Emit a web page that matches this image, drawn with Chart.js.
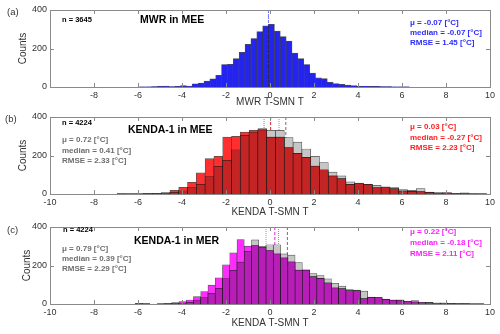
<!DOCTYPE html>
<html>
<head>
<meta charset="utf-8">
<script src="https://cdn.jsdelivr.net/npm/chart.js@4.4.1/dist/chart.umd.min.js"></script>
<style>
  html, body { margin: 0; padding: 0; background: #fff; }
  #wrap { position: relative; width: 500px; height: 334px; overflow: hidden; }
  canvas { position: absolute; left: 0; }
</style>
</head>
<body>
<div id="wrap">
  <canvas id="chartA" width="500" height="110" style="top:0"></canvas>
  <canvas id="chartB" width="500" height="113" style="top:105px"></canvas>
  <canvas id="chartC" width="500" height="119" style="top:215px"></canvas>
</div>
<script>
// ---- data (counts) ----
const xRange = [-10, 10];
const yTicks = [0, 200, 400];

// (a) MWR in MEE
const mwrBinStart = -5.94;
const mwrBinWidth = 0.267;
const mwrCounts = [1, 1, 2, 3, 5, 2, 3, 7, 5, 17, 21, 31, 42, 61, 117, 118, 148, 180, 222, 252,
  288, 318, 325, 290, 262, 238, 176, 148, 117, 72, 48, 44, 24, 18, 14, 10, 7, 5, 4, 3, 3, 2, 2, 1, 1, 1];
const mwrStats = { mean: -0.07, median: -0.07 };

// (b) KENDA-1 in MEE (red) vs grey reference
const meeBinStart = -6.95;
const meeBinWidth = 0.4;
const kendaMee = [1, 1, 1, 4, 3, 7, 19, 35, 60, 110, 184, 196, 296, 299, 322, 331, 340, 296, 296, 241,
  211, 190, 145, 126, 94, 80, 50, 54, 50, 33, 33, 28, 16, 14, 13, 9, 5, 8, 2, 2, 1, 1];
const greyMee = [2, 1, 1, 2, 2, 5, 9, 17, 33, 50, 90, 144, 175, 230, 305, 322, 333, 331, 331, 293,
  270, 234, 196, 163, 114, 94, 63, 57, 50, 45, 37, 33, 23, 19, 28, 10, 7, 5, 3, 6, 2, 1];
const kendaMeeStats = { mean: 0.03, median: -0.27 };
const greyMeeStats = { mean: 0.72, median: 0.41 };

// (c) KENDA-1 in MER (magenta) vs grey reference
const merBinStart = -6.45;
const merBinWidth = 0.33;
const kendaMer = [0, 2, 2, 0, 1, 2, 7, 12, 21, 38, 64, 98, 136, 204, 266, 335, 301, 304, 296, 278,
  261, 240, 219, 176, 176, 142, 133, 110, 84, 80, 70, 70, 28, 35, 33, 24, 20, 20, 13, 11,
  8, 7, 5, 5, 3, 2, 2, 1, 1];
const greyMer = [0, 2, 1, 0, 1, 2, 4, 5, 9, 21, 33, 55, 81, 132, 175, 218, 273, 333, 300, 308,
  308, 260, 254, 215, 177, 158, 148, 131, 108, 93, 75, 72, 67, 36, 34, 25, 20, 20, 14, 18,
  8, 7, 5, 5, 4, 2, 2, 1, 1];
const kendaMerStats = { mean: 0.22, median: -0.18 };
const greyMerStats = { mean: 0.79, median: 0.39 };

// ---- styling ----
const FONT = "'Liberation Sans', Arial, sans-serif";
const AXIS = '#8a8a8a';
const LABEL = '#333';
const EDGE = 'rgba(20,20,20,0.75)';
const GREY = '#c6c6c6';

function bars(start, width, counts) {
  return counts.map((c, i) => ({ x: start + width * (i + 0.5), y: c }));
}

function histSet(start, width, counts, color) {
  return {
    data: bars(start, width, counts),
    backgroundColor: color,
    borderColor: EDGE,
    borderWidth: 0.7,
    barPercentage: 1,
    categoryPercentage: 1,
    grouped: false,
  };
}

// stats lines under the bars; box, inward ticks, y title and texts on top
const framePlugin = {
  id: 'frame',
  beforeDatasetsDraw(chart, args, opts) {
    const { ctx, chartArea: a, scales: { x } } = chart;
    (opts.lines || []).forEach(l => {
      const px = x.getPixelForValue(l.value);
      ctx.save();
      ctx.strokeStyle = l.color;
      ctx.lineWidth = 1;
      ctx.setLineDash(l.dash);
      ctx.beginPath();
      ctx.moveTo(px, a.top);
      ctx.lineTo(px, a.bottom);
      ctx.stroke();
      ctx.restore();
    });
  },
  afterDraw(chart, args, opts) {
    const { ctx, chartArea: a, scales: { x, y } } = chart;
    ctx.save();
    ctx.strokeStyle = AXIS;
    ctx.lineWidth = 1;
    ctx.strokeRect(Math.round(a.left) + 0.5, Math.round(a.top) + 0.5,
      Math.round(a.right - a.left), Math.round(a.bottom - a.top));
    ctx.beginPath();
    x.ticks.forEach(t => {
      const px = Math.round(x.getPixelForValue(t.value)) + 0.5;
      ctx.moveTo(px, a.bottom); ctx.lineTo(px, a.bottom - 4);
      ctx.moveTo(px, a.top); ctx.lineTo(px, a.top + 4);
    });
    y.ticks.forEach(t => {
      const py = Math.round(y.getPixelForValue(t.value)) + 0.5;
      ctx.moveTo(a.left, py); ctx.lineTo(a.left + 4, py);
      ctx.moveTo(a.right, py); ctx.lineTo(a.right - 4, py);
    });
    ctx.stroke();

    // y axis title
    ctx.save();
    ctx.translate(opts.yTitleX, (a.top + a.bottom) / 2);
    ctx.rotate(-Math.PI / 2);
    ctx.fillStyle = LABEL;
    ctx.font = '10px ' + FONT;
    ctx.textAlign = 'center';
    ctx.textBaseline = 'middle';
    ctx.fillText('Counts', 0, 0);
    ctx.restore();

    (opts.texts || []).forEach(t => {
      ctx.fillStyle = t.color;
      ctx.font = t.font;
      ctx.textAlign = 'left';
      ctx.textBaseline = 'middle';
      ctx.fillText(t.text, t.x, t.y);
    });
    ctx.restore();
  }
};

function makeChart(id, datasets, o) {
  return new Chart(document.getElementById(id), {
    type: 'bar',
    data: { datasets },
    plugins: [framePlugin],
    options: {
      responsive: false,
      animation: false,
      layout: { padding: { top: o.top, right: 10, left: 0, bottom: 0 } },
      plugins: {
        legend: { display: false },
        tooltip: { enabled: false },
        frame: { lines: o.lines, texts: o.texts, yTitleX: o.yTitleX },
      },
      scales: {
        x: {
          type: 'linear',
          min: xRange[0],
          max: xRange[1],
          offset: false,
          grid: { display: false, drawTicks: false },
          border: { display: false },
          ticks: {
            stepSize: 2,
            autoSkip: false,
            maxRotation: 0,
            padding: o.xTickPad,
            color: LABEL,
            font: { family: FONT, size: 9 },
            callback: v => (o.hideFirst && v === xRange[0]) ? '' : v,
          },
          title: {
            display: true,
            text: o.xTitle,
            color: LABEL,
            font: { family: FONT, size: 10 },
            padding: { top: 0, bottom: o.xTitlePad },
          },
          afterFit: s => { s.height = o.xHeight; },
        },
        y: {
          min: yTicks[0],
          max: yTicks[yTicks.length - 1],
          grid: { display: false, drawTicks: false },
          border: { display: false },
          afterBuildTicks: s => { s.ticks = yTicks.map(v => ({ value: v })); },
          ticks: {
            padding: 3,
            color: LABEL,
            font: { family: FONT, size: 9 },
          },
          afterFit: s => { s.width = 50; },
        },
      },
    },
  });
}

const B8 = 'bold 8px ' + FONT;
const B7 = 'bold 7.5px ' + FONT;
const B10 = 'bold 10.5px ' + FONT;
const MU = '\u03bc';

// (a)
makeChart('chartA', [histSet(mwrBinStart, mwrBinWidth, mwrCounts, '#2424f0')], {
  top: 10, xHeight: 23, xTickPad: 3, xTitlePad: 2, yTitleX: 23, hideFirst: true,
  xTitle: 'MWR T-SMN T',
  lines: [
    { value: mwrStats.median, color: '#7a7aff', dash: [1, 1] },
    { value: mwrStats.mean, color: '#7a7aff', dash: [3, 2] },
  ],
  texts: [
    { text: '(a)', x: 7, y: 12, color: '#333', font: '9.5px ' + FONT },
    { text: 'n = 3645', x: 62, y: 20, color: '#000', font: B7 },
    { text: 'MWR in MEE', x: 140, y: 20, color: '#000', font: B10 },
    { text: MU + ' = -0.07 [\u00b0C]', x: 410, y: 23, color: '#2b2bff', font: B8 },
    { text: 'median = -0.07 [\u00b0C]', x: 410, y: 33, color: '#2b2bff', font: B8 },
    { text: 'RMSE = 1.45 [\u00b0C]', x: 410, y: 43, color: '#2b2bff', font: B8 },
  ],
});

// (b)
const meeOverlap = kendaMee.map((v, i) => Math.min(v, greyMee[i]));
makeChart('chartB', [
  histSet(meeBinStart, meeBinWidth, meeOverlap, '#c42424'),
  histSet(meeBinStart, meeBinWidth, kendaMee, '#ff2f2f'),
  histSet(meeBinStart, meeBinWidth, greyMee, GREY),
], {
  top: 12, xHeight: 24, xTickPad: 3, xTitlePad: 0, yTitleX: 23, hideFirst: false,
  xTitle: 'KENDA T-SMN T',
  lines: [
    { value: kendaMeeStats.median, color: '#ff5050', dash: [1, 1] },
    { value: kendaMeeStats.mean, color: '#e02020', dash: [3, 2] },
    { value: greyMeeStats.median, color: '#909090', dash: [1, 1] },
    { value: greyMeeStats.mean, color: '#707070', dash: [3, 2] },
  ],
  texts: [
    { text: '(b)', x: 5, y: 14, color: '#333', font: '9.5px ' + FONT },
    { text: 'n = 4224', x: 62, y: 18, color: '#000', font: B7 },
    { text: 'KENDA-1 in MEE', x: 128, y: 25, color: '#000', font: B10 },
    { text: MU + ' = 0.72 [\u00b0C]', x: 62, y: 35, color: '#6e6e6e', font: B8 },
    { text: 'median = 0.41 [\u00b0C]', x: 62, y: 45.5, color: '#6e6e6e', font: B8 },
    { text: 'RMSE = 2.33 [\u00b0C]', x: 62, y: 56, color: '#6e6e6e', font: B8 },
    { text: MU + ' = 0.03 [\u00b0C]', x: 410, y: 22, color: '#ff2020', font: B8 },
    { text: 'median = -0.27 [\u00b0C]', x: 410, y: 32.5, color: '#ff2020', font: B8 },
    { text: 'RMSE = 2.23 [\u00b0C]', x: 410, y: 43, color: '#ff2020', font: B8 },
  ],
});

// (c)
const merOverlap = kendaMer.map((v, i) => Math.min(v, greyMer[i]));
makeChart('chartC', [
  histSet(merBinStart, merBinWidth, merOverlap, '#b71eb7'),
  histSet(merBinStart, merBinWidth, kendaMer, '#ff2cff'),
  histSet(merBinStart, merBinWidth, greyMer, GREY),
], {
  top: 12, xHeight: 30, xTickPad: 3, xTitlePad: 5, yTitleX: 27, hideFirst: false,
  xTitle: 'KENDA T-SMN T',
  lines: [
    { value: kendaMerStats.median, color: '#ff50ff', dash: [1, 1] },
    { value: kendaMerStats.mean, color: '#e020e0', dash: [3, 2] },
    { value: greyMerStats.median, color: '#909090', dash: [1, 1] },
    { value: greyMerStats.mean, color: '#707070', dash: [3, 2] },
  ],
  texts: [
    { text: '(c)', x: 7, y: 15, color: '#333', font: '9.5px ' + FONT },
    { text: 'n = 4224', x: 63, y: 15, color: '#000', font: B7 },
    { text: 'KENDA-1 in MER', x: 134, y: 26, color: '#000', font: B10 },
    { text: MU + ' = 0.79 [\u00b0C]', x: 62, y: 33.5, color: '#6e6e6e', font: B8 },
    { text: 'median = 0.39 [\u00b0C]', x: 62, y: 44, color: '#6e6e6e', font: B8 },
    { text: 'RMSE = 2.29 [\u00b0C]', x: 62, y: 54, color: '#6e6e6e', font: B8 },
    { text: MU + ' = 0.22 [\u00b0C]', x: 410, y: 17, color: '#ff20ff', font: B8 },
    { text: 'median = -0.18 [\u00b0C]', x: 410, y: 28, color: '#ff20ff', font: B8 },
    { text: 'RMSE = 2.11 [\u00b0C]', x: 410, y: 38.5, color: '#ff20ff', font: B8 },
  ],
});
</script>
</body>
</html>
